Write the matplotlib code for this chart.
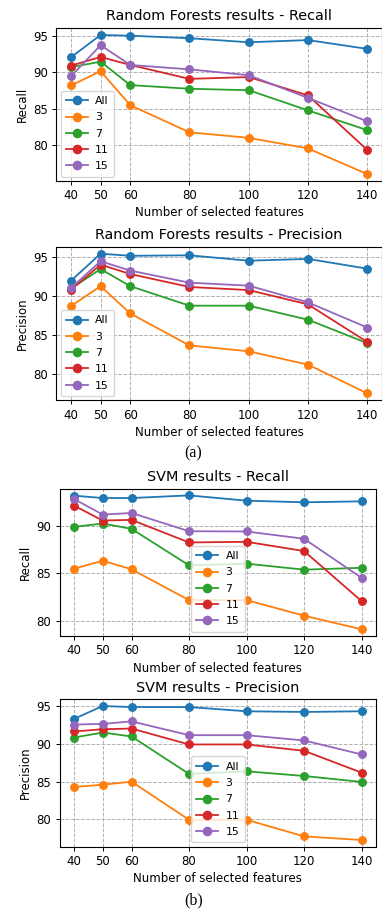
import matplotlib
matplotlib.use('Agg')
import matplotlib.pyplot as plt

W, H = 382, 913

features = [40, 50, 60, 80, 100, 120, 140]
series_names = ['All', '3', '7', '11', '15']

rf_recall = {
    'All': [92.05, 95.1, 95.0, 94.65, 94.1, 94.4, 93.2],
    '3':   [88.2, 90.15, 85.5, 81.8, 81.05, 79.6, 76.1],
    '7':   [90.7, 91.45, 88.25, 87.75, 87.55, 84.8, 82.1],
    '11':  [90.9, 92.1, 91.0, 89.1, 89.35, 86.85, 79.4],
    '15':  [89.45, 93.7, 91.0, 90.4, 89.6, 86.5, 83.3],
}
rf_precision = {
    'All': [92.0, 95.47, 95.2, 95.26, 94.57, 94.8, 93.55],
    '3':   [88.76, 91.3, 87.8, 83.7, 82.95, 81.24, 77.56],
    '7':   [91.0, 93.5, 91.3, 88.8, 88.8, 87.0, 84.0],
    '11':  [90.85, 94.06, 92.86, 91.2, 90.8, 88.97, 84.15],
    '15':  [91.07, 94.5, 93.3, 91.75, 91.37, 89.23, 86.0],
}
svm_recall = {
    'All': [93.23, 92.98, 92.98, 93.26, 92.7, 92.53, 92.63],
    '3':   [85.5, 86.35, 85.44, 82.18, 82.18, 80.53, 79.09],
    '7':   [89.93, 90.28, 89.72, 85.86, 86.04, 85.4, 85.6],
    '11':  [92.18, 90.6, 90.67, 88.28, 88.35, 87.37, 82.07],
    '15':  [92.88, 91.23, 91.4, 89.47, 89.44, 88.67, 84.53],
}
svm_precision = {
    'All': [93.33, 95.04, 94.9, 94.9, 94.34, 94.25, 94.34],
    '3':   [84.3, 84.6, 85.0, 79.95, 79.95, 77.75, 77.27],
    '7':   [90.86, 91.52, 91.0, 86.03, 86.38, 85.76, 84.97],
    '11':  [91.66, 91.96, 92.05, 89.94, 89.94, 89.1, 86.2],
    '15':  [92.58, 92.67, 93.0, 91.17, 91.17, 90.47, 88.62],
}

# panels: (data, title, ylabel, legend loc, pixel box left, top, right, bottom)
panels = [
    (rf_recall, 'Random Forests results - Recall', 'Recall', 'lower left', (56.2, 28, 382, 181)),
    (rf_precision, 'Random Forests results - Precision', 'Precision', 'lower left', (56.2, 246.7, 382, 400.3)),
    (svm_recall, 'SVM results - Recall', 'Recall', 'lower center', (59.6, 488.7, 376, 636)),
    (svm_precision, 'SVM results - Precision', 'Precision', 'lower center', (59.6, 699.3, 376, 846.7)),
]

fig = plt.figure(figsize=(W / 100, H / 100), dpi=100)

for data, title, ylabel, loc, (l, t, r, b) in panels:
    ax = fig.add_axes([l / W, 1 - b / H, (r - l) / W, (b - t) / H])
    for name in series_names:
        ax.plot(features, data[name], marker='o', markersize=5.4, linewidth=1.3, label=name)
    lims = ax.get_ylim()
    ax.set_xticks(features)
    ax.set_yticks([80, 85, 90, 95])
    ax.set_ylim(*lims)
    ax.grid(True, linestyle='--', color='#b0b0b0', linewidth=0.7)
    ax.set_title(title, fontsize=10.4, pad=5.5)
    ax.set_ylabel(ylabel, fontsize=8.5, labelpad=3)
    ax.set_xlabel('Number of selected features', fontsize=8.5, labelpad=3)
    ax.tick_params(labelsize=8.5, length=3, width=0.7, pad=3)
    for s in ax.spines.values():
        s.set_linewidth(0.8)
    ax.legend(loc=loc, fontsize=7.8, handlelength=2.0, markerscale=1.1,
              borderpad=0.5, labelspacing=0.58, handletextpad=0.7, borderaxespad=0.4)

fig.text(193.5 / W, 1 - 453 / H, '(a)', ha='center', va='center', fontsize=11.5, family='Liberation Serif')
fig.text(193.5 / W, 1 - 900 / H, '(b)', ha='center', va='center', fontsize=11.5, family='Liberation Serif')

fig.savefig('out.png', dpi=100)
